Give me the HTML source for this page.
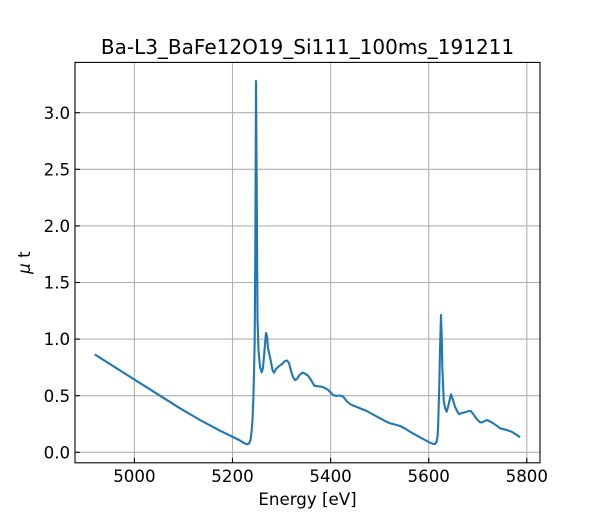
<!DOCTYPE html>
<html><head><meta charset="utf-8"><style>
html,body{margin:0;padding:0;background:#fff;}
svg{display:block;}
text{font-family:"DejaVu Sans","Liberation Sans",sans-serif;fill:#000;}
</style></head><body>
<svg width="600" height="520" viewBox="0 0 600 520" xmlns="http://www.w3.org/2000/svg">
<rect width="600" height="520" fill="#fff"/>
<g stroke="#b0b0b0" stroke-width="1.1">
<line x1="134.4" y1="62.4" x2="134.4" y2="462.8"/>
<line x1="232.5" y1="62.4" x2="232.5" y2="462.8"/>
<line x1="330.6" y1="62.4" x2="330.6" y2="462.8"/>
<line x1="428.7" y1="62.4" x2="428.7" y2="462.8"/>
<line x1="526.8" y1="62.4" x2="526.8" y2="462.8"/>
<line x1="75" y1="452.3" x2="540" y2="452.3"/>
<line x1="75" y1="395.7" x2="540" y2="395.7"/>
<line x1="75" y1="339.1" x2="540" y2="339.1"/>
<line x1="75" y1="282.5" x2="540" y2="282.5"/>
<line x1="75" y1="225.9" x2="540" y2="225.9"/>
<line x1="75" y1="169.3" x2="540" y2="169.3"/>
<line x1="75" y1="112.7" x2="540" y2="112.7"/>
</g>
<polyline fill="none" stroke="#1f77b4" stroke-width="2.1" stroke-linejoin="round" stroke-linecap="square" points="
95.7,355 134,379.3 160,395.7 180,408.3 200,420 220,430.7 232,436.5 240,440.5 244,443 247,444.3 249,443.5 250.5,440 251.5,432 252.5,420 253.3,400 254,373 254.7,340 255.3,250 256,81
256.8,200 257.5,320 258.5,350 260,367 261.7,372.3 263,368 264.5,350 266,333 267,336 268,348 269.5,355 271,362 272.5,370 274,372.7 276,369 278.3,366.7 282,364 285,361 287,360.5 289,363 291,371 293,377 295,380 297,379 299.5,375 302.3,372.7 305,373.5 308.3,376 311,380 314.3,385.7 318,386.3 321.7,386.7 325,388 328.3,390 331,393 333.3,395 336,396 340,395.5 343,396.5 347,401.5 350,404 353.3,405.7 357,407 361.7,409 366.7,411 373,414.5 380,418.3 385,421 390,423.3 395,424.5 400,426 405,428.5 410,431.7 415,434.5 420,437.3 425,440 430,442.7 433,443.8 435,444 436.7,441.5 437.7,435 438.3,420 439.3,385 440,350 441,315
441.8,340 442.3,366.7 443.7,400 445,408 446.7,411.7 448.5,405 451,394.3 453,400 455,406.7 457,411 459,414 462,413 465,412.3 468,411.2 470.7,411 472.7,413.3 476.7,419 480,422.3 482.3,422.3 486.7,420 490,421.5 493.3,423.3 497,426 500,428.3 506.7,430 511.7,431.7 516,434.5 519.3,436.7"/>
<g stroke="#000" stroke-width="1.1">
<line x1="134.4" y1="462.8" x2="134.4" y2="457.9"/>
<line x1="232.5" y1="462.8" x2="232.5" y2="457.9"/>
<line x1="330.6" y1="462.8" x2="330.6" y2="457.9"/>
<line x1="428.7" y1="462.8" x2="428.7" y2="457.9"/>
<line x1="526.8" y1="462.8" x2="526.8" y2="457.9"/>
<line x1="75" y1="452.3" x2="79.9" y2="452.3"/>
<line x1="75" y1="395.7" x2="79.9" y2="395.7"/>
<line x1="75" y1="339.1" x2="79.9" y2="339.1"/>
<line x1="75" y1="282.5" x2="79.9" y2="282.5"/>
<line x1="75" y1="225.9" x2="79.9" y2="225.9"/>
<line x1="75" y1="169.3" x2="79.9" y2="169.3"/>
<line x1="75" y1="112.7" x2="79.9" y2="112.7"/>
</g>
<rect x="75" y="62.4" width="465" height="400.4" fill="none" stroke="#000" stroke-width="1.1"/>
<g font-size="16.67" text-anchor="middle">
<text x="134.4" y="482">5000</text>
<text x="232.5" y="482">5200</text>
<text x="330.6" y="482">5400</text>
<text x="428.7" y="482">5600</text>
<text x="526.8" y="482">5800</text>
</g>
<g font-size="16.67" text-anchor="end">
<text x="70.1" y="458.4">0.0</text>
<text x="70.1" y="401.8">0.5</text>
<text x="70.1" y="345.2">1.0</text>
<text x="70.1" y="288.6">1.5</text>
<text x="70.1" y="232">2.0</text>
<text x="70.1" y="175.4">2.5</text>
<text x="70.1" y="118.8">3.0</text>
</g>
<text x="307.5" y="505" font-size="16.67" text-anchor="middle">Energy [eV]</text>
<text x="307.5" y="54" font-size="20" text-anchor="middle">Ba-L3_BaFe12O19_Si111_100ms_191211</text>
<text transform="translate(30,262.6) rotate(-90)" font-size="16.67" text-anchor="middle"><tspan font-style="italic">μ</tspan> t</text>
</svg>
</body></html>
